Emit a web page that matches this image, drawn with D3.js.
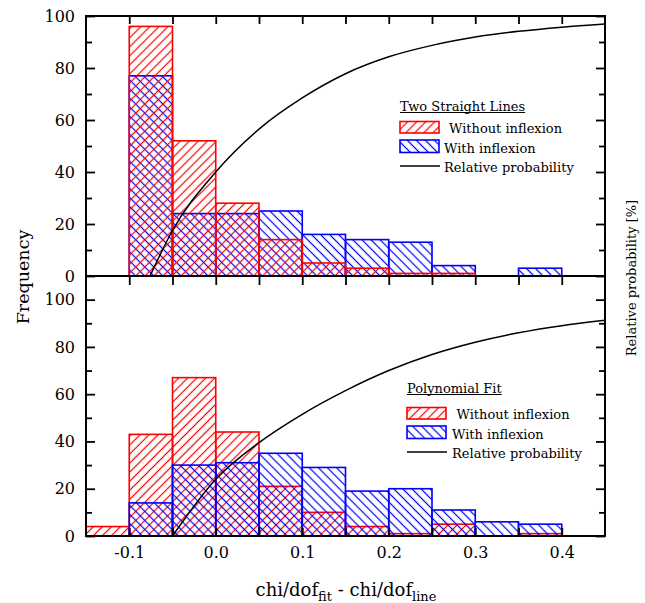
<!DOCTYPE html>
<html>
<head>
<meta charset="utf-8">
<script src="https://cdn.jsdelivr.net/npm/d3@7"></script>
<style>
  html, body { margin: 0; padding: 0; background: #fff; }
  svg { display: block; font-family: "DejaVu Serif", serif; }
</style>
</head>
<body>
<svg id="chart" width="645" height="603"></svg>
<script>
// Bin starts (width 0.05) of chi/dof_fit - chi/dof_line
const binStarts = [-0.15, -0.10, -0.05, 0.00, 0.05, 0.10, 0.15, 0.20, 0.25, 0.30, 0.35];
const binWidth = 0.05;

// Two Straight Lines
const linesWithout = [0, 96, 52, 28, 14, 5, 3, 1, 1, 0, 0];
const linesWith    = [0, 77, 24, 24, 25, 16, 14, 13, 4, 0, 3];
const linesProbX   = [-0.076, -0.05, 0.00, 0.05, 0.10, 0.15, 0.20, 0.25, 0.30, 0.35, 0.40, 0.45];
const linesProbY   = [0, 17.5, 40, 56.5, 68.5, 77.8, 84.3, 88.7, 91.9, 94.1, 95.7, 96.9];

// Polynomial Fit
const polyWithout = [4, 43, 67, 44, 21, 10, 4, 1, 5, 0, 1];
const polyWith    = [0, 14, 30, 31, 35, 29, 19, 20, 11, 6, 5];
const polyProbX   = [-0.05, 0.00, 0.05, 0.10, 0.15, 0.20, 0.25, 0.30, 0.35, 0.40, 0.45];
const polyProbY   = [0, 24, 39.5, 51.5, 61.5, 70, 76.8, 82, 86, 89, 91.3];

// Axis ticks and labels
const xTickValues = [-0.1, 0.0, 0.1, 0.2, 0.3, 0.4];
const xTickLabels = ["-0.1", "0.0", "0.1", "0.2", "0.3", "0.4"];
const xAllTicks = [-0.15, -0.10, -0.05, 0.00, 0.05, 0.10, 0.15, 0.20, 0.25, 0.30, 0.35, 0.40, 0.45];
const yMajor = [0, 20, 40, 60, 80, 100];
const yMinor = [10, 30, 50, 70, 90];
const seriesNames = ["Without inflexion", "With inflexion", "Relative probability"];

const svg = d3.select("#chart");
const L = 86, R = 605, T = 16, M = 276, B = 536;

const x = d3.scaleLinear().domain([-0.15, 0.45]).range([L, R]);
const yTop = d3.scaleLinear().domain([0, 100]).range([M, T]);
const yBot = d3.scaleLinear().domain([0, 110]).range([B, M]);

// hatch patterns
const defs = svg.append("defs");
function hatch(id, color, angle) {
  const p = defs.append("pattern")
    .attr("id", id)
    .attr("patternUnits", "userSpaceOnUse")
    .attr("width", 6.4).attr("height", 6.4)
    .attr("patternTransform", `rotate(${angle})`);
  p.append("line")
    .attr("x1", 3.2).attr("y1", -1).attr("x2", 3.2).attr("y2", 7.4)
    .attr("stroke", color).attr("stroke-width", 1.2);
}
hatch("hatchRed", "#ff0000", 45);
hatch("hatchBlue", "#0000ff", -45);

defs.append("clipPath").attr("id", "clipTop")
  .append("rect").attr("x", L).attr("y", T).attr("width", R - L).attr("height", M - T);
defs.append("clipPath").attr("id", "clipBot")
  .append("rect").attr("x", L).attr("y", M).attr("width", R - L).attr("height", B - M);

function drawBars(g, y, values, color, pat) {
  const data = binStarts.map((s, i) => ({ s, v: values[i] })).filter(d => d.v > 0);
  g.append("g").selectAll("rect").data(data).join("rect")
    .attr("x", d => x(d.s))
    .attr("y", d => y(d.v))
    .attr("width", d => x(d.s + binWidth) - x(d.s))
    .attr("height", d => y(0) - y(d.v))
    .attr("fill", `url(#${pat})`)
    .attr("stroke", color)
    .attr("stroke-width", 1.6);
}

function drawCurve(g, y, xs, ys, clip) {
  const pts = xs.map((v, i) => [v, ys[i]]);
  g.append("path")
    .datum(pts)
    .attr("clip-path", `url(#${clip})`)
    .attr("fill", "none")
    .attr("stroke", "#000")
    .attr("stroke-width", 1.5)
    .attr("d", d3.line().x(d => x(d[0])).y(d => y(d[1])).curve(d3.curveMonotoneX));
}

function styleAxis(g) {
  g.select(".domain").remove();
  g.selectAll(".tick line").attr("stroke", "#000").attr("stroke-width", 1.8);
  g.selectAll(".tick text").attr("fill", "#000").style("font-family", "DejaVu Serif").style("font-size", "16px");
}

// ---- top panel: Two Straight Lines ----
const gTop = svg.append("g");
drawBars(gTop, yTop, linesWith, "#0000ff", "hatchBlue");
drawBars(gTop, yTop, linesWithout, "#ff0000", "hatchRed");
drawCurve(gTop, yTop, linesProbX, linesProbY, "clipTop");

// ---- bottom panel: Polynomial Fit ----
const gBot = svg.append("g");
drawBars(gBot, yBot, polyWithout, "#ff0000", "hatchRed");
drawBars(gBot, yBot, polyWith, "#0000ff", "hatchBlue");
drawCurve(gBot, yBot, polyProbX, polyProbY, "clipBot");

// ---- axes ----
function yAxes(y) {
  svg.append("g").attr("transform", `translate(${L},0)`)
    .call(d3.axisLeft(y).tickValues(yMajor).tickSizeInner(-9).tickSizeOuter(0).tickPadding(11).tickFormat(d3.format("d")))
    .call(styleAxis);
  svg.append("g").attr("transform", `translate(${L},0)`)
    .call(d3.axisLeft(y).tickValues(yMinor).tickSizeInner(-6).tickSizeOuter(0).tickFormat(""))
    .call(styleAxis);
  svg.append("g").attr("transform", `translate(${R},0)`)
    .call(d3.axisRight(y).tickValues(yMajor).tickSizeInner(-9).tickSizeOuter(0).tickFormat(""))
    .call(styleAxis);
  svg.append("g").attr("transform", `translate(${R},0)`)
    .call(d3.axisRight(y).tickValues(yMinor).tickSizeInner(-6).tickSizeOuter(0).tickFormat(""))
    .call(styleAxis);
}
yAxes(yTop);
yAxes(yBot);

// top edge ticks (inward)
svg.append("g").attr("transform", `translate(0,${T})`)
  .call(d3.axisTop(x).tickValues(xAllTicks.slice(1, -1)).tickSizeInner(-8).tickSizeOuter(0).tickFormat(""))
  .call(styleAxis);
// shared middle axis ticks
svg.append("g").attr("transform", `translate(0,${M})`)
  .call(d3.axisBottom(x).tickValues(xAllTicks.slice(1, -1)).tickSizeInner(9).tickSizeOuter(0).tickFormat(""))
  .call(styleAxis);
// bottom axis ticks (inward) and labels
svg.append("g").attr("transform", `translate(0,${B})`)
  .call(d3.axisBottom(x).tickValues(xAllTicks.slice(1, -1)).tickSizeInner(-8).tickSizeOuter(0).tickFormat(""))
  .call(styleAxis);
svg.append("g").attr("transform", `translate(0,${B})`)
  .call(d3.axisBottom(x).tickValues(xTickValues).tickSize(0).tickPadding(11)
    .tickFormat((d, i) => xTickLabels[i]))
  .call(styleAxis);

// frames
[[T, M], [M, B]].forEach(([a, b]) => {
  svg.append("rect")
    .attr("x", L).attr("y", a).attr("width", R - L).attr("height", b - a)
    .attr("fill", "none").attr("stroke", "#000").attr("stroke-width", 2);
});

// ---- titles ----
svg.append("text")
  .attr("transform", `translate(29,277) rotate(-90)`)
  .attr("text-anchor", "middle")
  .style("font-size", "17.5px")
  .text("Frequency");

svg.append("text")
  .attr("transform", `translate(636,278) rotate(-90)`)
  .attr("text-anchor", "middle")
  .style("font-size", "13px")
  .text("Relative probability [%]");

const xt = svg.append("text")
  .attr("x", 346).attr("y", 596)
  .attr("text-anchor", "middle")
  .style("font-size", "18px");
xt.append("tspan").text("chi/dof");
xt.append("tspan").attr("dy", 4.5).style("font-size", "13px").text("fit");
xt.append("tspan").attr("dy", -4.5).text(" - chi/dof");
xt.append("tspan").attr("dy", 4.5).style("font-size", "13px").text("line");

// ---- legends ----
function legend(title, lx, ty, rowsY, textX) {
  const g = svg.append("g").style("font-size", "13px");
  const t = g.append("text").attr("x", lx).attr("y", ty).text(title);
  const w = t.node().getComputedTextLength();
  g.append("line").attr("x1", lx).attr("x2", lx + w).attr("y1", ty + 2).attr("y2", ty + 2)
    .attr("stroke", "#000").attr("stroke-width", 1);
  g.append("rect").attr("x", lx).attr("y", rowsY[0] - 11.5).attr("width", 39).attr("height", 11.5)
    .attr("fill", "url(#hatchRed)").attr("stroke", "#ff0000").attr("stroke-width", 1.6);
  g.append("text").attr("x", textX[0]).attr("y", rowsY[0]).text(seriesNames[0]);
  g.append("rect").attr("x", lx).attr("y", rowsY[1] - 12.5).attr("width", 39).attr("height", 12.5)
    .attr("fill", "url(#hatchBlue)").attr("stroke", "#0000ff").attr("stroke-width", 1.6);
  g.append("text").attr("x", textX[1]).attr("y", rowsY[1]).text(seriesNames[1]);
  g.append("line").attr("x1", lx).attr("x2", lx + 40).attr("y1", rowsY[2] - 5.5).attr("y2", rowsY[2] - 5.5)
    .attr("stroke", "#000").attr("stroke-width", 1.5);
  g.append("text").attr("x", textX[1]).attr("y", rowsY[2]).text(seriesNames[2]);
}
legend("Two Straight Lines", 400, 110.5, [133, 152.5, 171.5], [449, 444]);
legend("Polynomial Fit", 407, 392.5, [419, 438.5, 457.5], [456.5, 452]);
</script>
</body>
</html>
